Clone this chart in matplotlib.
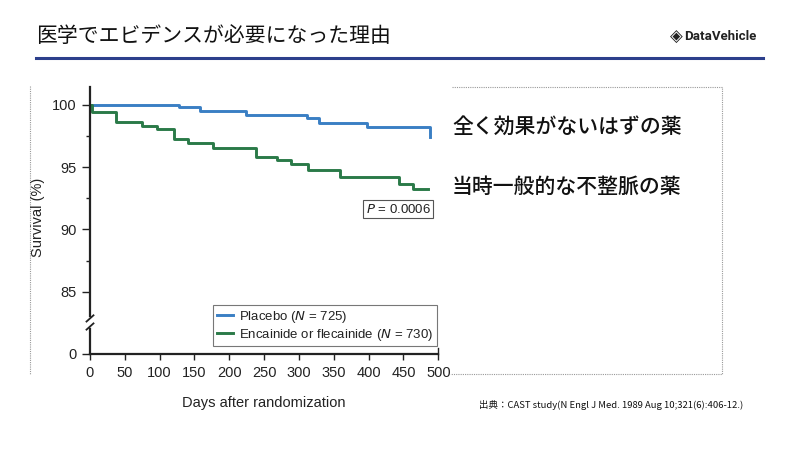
import numpy as np
import matplotlib.pyplot as plt
from matplotlib.ticker import FixedLocator

plt.rcParams['font.family'] = ['Liberation Sans', 'DejaVu Sans']

# 生存曲線（読み取り値）
placebo_day = [0, 128, 158, 224, 311, 329, 397, 488, 488]
placebo_surv = [100.0, 99.8, 99.55, 99.2, 98.98, 98.57, 98.25, 98.25, 97.45]
drug_day = [0, 3, 38, 74, 96, 120, 141, 177, 238, 268, 289, 313, 359, 443, 464, 485]
drug_surv = [100.0, 99.4, 98.6, 98.3, 98.05, 97.24, 96.97, 96.52, 95.85, 95.58,
             95.24, 94.78, 94.25, 93.66, 93.23, 93.23]
labels = ['Placebo ($N$ = 725)', 'Encainide or flecainide ($N$ = 730)']
xticks = list(range(0, 501, 50))
yticks = [80, 85, 90, 95, 100]
ytick_labels = ['0', '85', '90', '95', '100']

fig = plt.figure(figsize=(8, 4.51), dpi=100)

# 見出し
fig.text(36/800, 1-36/451, '医学でエビデンスが必要になった理由', fontsize=15,
         family=['Noto Sans CJK JP', 'DejaVu Sans'], va='center', ha='left', color='#111')
fig.text(670/800, 1-37/451, '◈', fontsize=12, family='DejaVu Sans', va='center', color='#222')
fig.text(684/800, 1-37/451, 'DataVehicle', fontsize=9.5, family='Roboto', weight='bold',
         va='center', color='#222')
fig.add_artist(plt.Line2D([36/800, 763/800], [1-58/451, 1-58/451], color='#2c3f8c', lw=2.2))

# 点線の枠
dot = dict(color='#999', lw=0.8, ls=(0, (1, 1)))
fig.add_artist(plt.Line2D([30/800, 30/800], [1-86/451, 1-374/451], **dot))
fig.add_artist(plt.Line2D([452/800, 722/800, 722/800, 450/800],
                          [1-87/451, 1-87/451, 1-374/451, 1-374/451], **dot))

ax = fig.add_axes([90/800, 1-353.9/451, 348.3/800, (353.9-87.3)/451])
ax.step(placebo_day, placebo_surv, where='post', color='#3a7fc4', lw=2.1, label=labels[0], clip_on=False)
ax.step(drug_day, drug_surv, where='post', color='#2a7a48', lw=2.1, label=labels[1], clip_on=False)
ax.set_xlim(0, 500)
ax.set_ylim(80, 101.42)
for s in ['top', 'right']:
    ax.spines[s].set_visible(False)
for s in ['left', 'bottom']:
    ax.spines[s].set_linewidth(1.6)
    ax.spines[s].set_color('#222')
ax.set_xticks(xticks)
ax.set_yticks(yticks)
ax.set_yticklabels(ytick_labels)
ax.yaxis.set_minor_locator(FixedLocator([87.5, 92.5, 97.5]))
ax.tick_params(axis='y', which='major', length=6, width=1, color='#222', labelsize=10.5, labelcolor='#222')
ax.tick_params(axis='y', which='minor', length=3, width=1, color='#222')
ax.tick_params(axis='x', length=4, width=1, color='#222', labelsize=10.5, labelcolor='#222', pad=5)

# 軸の省略記号
ax.plot([0, 0], [82.35, 82.7], color='white', lw=4, clip_on=False, zorder=5)
for yb in [82.2, 82.85]:
    ax.plot([-5, 5], [yb - 0.25, yb + 0.25], color='#222', lw=1.3, clip_on=False, zorder=6)
ax.plot([500, 500], [80, 80.45], color='#222', lw=1, clip_on=False)

ax.text(442.6, 91.63, '$P$ = 0.0006', fontsize=9.5, ha='center', va='center', color='#222',
        bbox=dict(boxstyle='square,pad=0.2', fc='white', ec='#555', lw=0.8))
leg = ax.legend(loc='lower right', bbox_to_anchor=(0.995, 0.03), fontsize=9.5, frameon=True,
                fancybox=False, edgecolor='#555', handlelength=1.2, borderpad=0.25,
                labelspacing=0.15, handletextpad=0.5, borderaxespad=0)
leg.get_frame().set_linewidth(0.8)
for t in leg.get_texts():
    t.set_color('#222')

fig.text(38/800, 1-217/451, 'Survival (%)', rotation=90, fontsize=10.5, ha='center', va='center', color='#222')
fig.text(263.5/800, 1-403/451, 'Days after randomization', fontsize=10.5, ha='center', va='center', color='#222')

# 右側の説明
cjk = ['Noto Sans CJK JP', 'DejaVu Sans']
fig.text(452/800, 1-127/451, '全く効果がないはずの薬', fontsize=15, family=cjk, weight='medium',
         va='center', color='#111')
fig.text(452/800, 1-187/451, '当時一般的な不整脈の薬', fontsize=15, family=cjk, weight='medium',
         va='center', color='#111')

fig.text(479/800, 1-405/451, '出典：CAST study(N Engl J Med. 1989 Aug 10;321(6):406-12.)',
         fontsize=6.8, family=cjk, va='center', color='#111')

fig.savefig('out.png', dpi=100)
